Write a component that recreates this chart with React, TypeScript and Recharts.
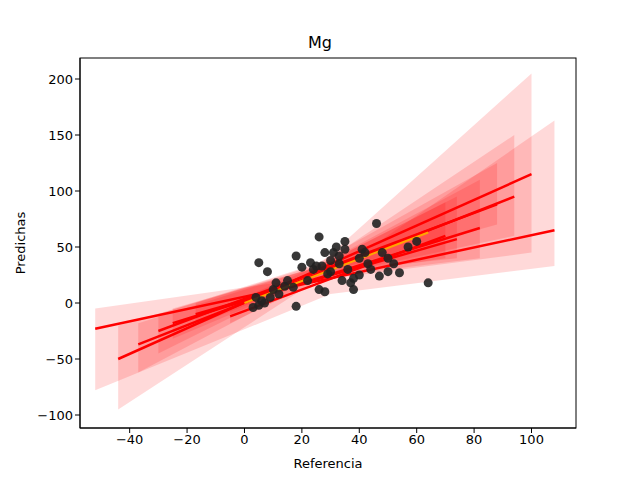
import React from 'react';
import { ComposedChart, Line, Area, Scatter, XAxis, YAxis, Label } from 'recharts';

const pointsX = [3,5,6,4,5,8,7,9,10,12,14,17,18,18,20,22,23,24,26,26,27,28,28,30,30,31,32,33,34,35,35,36,37,38,38,40,40,41,43,44,46,47,48,50,50,52,54,57,60,64,25,15,11,33,29,42];
const pointsY = [-4,-2,2,5,36,28,0,5,12,8,15,14,42,-3,32,20,36,30,12,59,33,10,45,38,28,45,50,35,20,55,48,30,18,12,22,40,25,48,35,30,71,24,45,40,28,35,27,50,55,18,33,20,18,42,26,45];

// Regression lines: [x0, y0, x1, y1]
const lines = [
  [-52, -23, 108, 65],
  [-44, -50, 100, 115],
  [-37, -37, 94, 95],
  [-30, -25, 88, 88],
  [-25, -18, 82, 67],
  [-17, -10, 74, 57],
  [-5, -12, 70, 60],
];
const orangeLine = [0, 0, 64, 63];

// Bands: [x, lo, hi] triples
const bands = [
  [[-52, -78, -5], [30, 8, 25], [108, 33, 163]],
  [[-44, -95, -20], [25, 20, 32], [100, 45, 205]],
  [[-37, -62, -18], [25, 22, 32], [94, 60, 150]],
  [[-30, -45, -10], [25, 25, 35], [88, 70, 125]],
  [[-25, -32, -5], [25, 22, 32], [82, 40, 110]],
  [[-17, -20, 0], [30, 28, 38], [74, 40, 95]],
  [[-5, -18, 0], [30, 25, 38], [70, 40, 90]],
];

const xTicks = [-40, -20, 0, 20, 40, 60, 80, 100];
const yTicks = [-100, -50, 0, 50, 100, 150, 200];

const scatterData = pointsX.map((x, i) => ({ x, y: pointsY[i] }));
const font = 'DejaVu Sans';
const fmt = (v: number) => (v < 0 ? '\u2212' + Math.abs(v) : String(v));

export default function App() {
  return (
    <div style={{ position: 'absolute', left: 0, top: 0, width: 640, height: 480, background: '#fff' }}>
      <div style={{ position: 'absolute', top: 33, width: 640, textAlign: 'center', fontFamily: font, fontSize: 16 }}>Mg</div>
      <ComposedChart width={640} height={480} margin={{ left: 20, right: 64, top: 58, bottom: 22 }}>
        <XAxis type="number" dataKey="x" domain={[-57.3, 115.5]} ticks={xTicks} allowDataOverflow tickFormatter={fmt}
          tick={{ fill: '#000', fontSize: 13, fontFamily: font }} stroke="#000" tickSize={5} height={30}>
          <Label value="Referencia" position="insideBottom" offset={-10} style={{ fill: '#000', fontSize: 13, fontFamily: font }} />
        </XAxis>
        <YAxis type="number" dataKey="y" domain={[-111.6, 218.75]} ticks={yTicks} allowDataOverflow tickFormatter={fmt}
          tick={{ fill: '#000', fontSize: 13, fontFamily: font }} stroke="#000" tickSize={5} width={60}>
          <Label value="Predichas" angle={-90} position="insideLeft" offset={0} style={{ fill: '#000', fontSize: 13, fontFamily: font, textAnchor: 'middle' }} />
        </YAxis>
        {bands.map((b, i) => (
          <Area key={'b' + i} data={b.map(p => ({ x: p[0], r: [p[1], p[2]] }))} dataKey="r" type="linear"
            stroke="none" fill="#ff0000" fillOpacity={0.15} isAnimationActive={false} />
        ))}
        <Scatter data={scatterData} fill="#222" shape={(p: any) => <circle cx={p.cx} cy={p.cy} r={4.5} fill="#222" fillOpacity={0.9} />} isAnimationActive={false} />
        {lines.map((l, i) => (
          <Line key={'l' + i} data={[{ x: l[0], y: l[1] }, { x: l[2], y: l[3] }]} dataKey="y" type="linear"
            stroke="#ff0000" strokeWidth={2.5} dot={false} isAnimationActive={false} />
        ))}
        <Line data={[{ x: orangeLine[0], y: orangeLine[1] }, { x: orangeLine[2], y: orangeLine[3] }]} dataKey="y" type="linear"
          stroke="#ffa500" strokeWidth={2} dot={false} isAnimationActive={false} />
        <rect x={80} y={58} width={496} height={370} fill="none" stroke="#000" />
      </ComposedChart>
    </div>
  );
}
